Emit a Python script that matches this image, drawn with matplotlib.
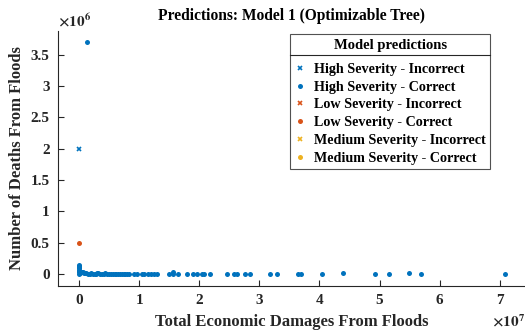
import matplotlib
matplotlib.use("Agg")
import matplotlib.pyplot as plt
from matplotlib.lines import Line2D
from matplotlib.ticker import FuncFormatter

# ── Data (damages in $, deaths) ───────────────────────────────────
high_incorrect_x = [0.0]
high_incorrect_y = [2.0e6]

high_correct_x = [
    0.13e7, 0.0, 0.0, 0.0, 0.0, 0.0, 0.0, 0.0, 0.0,
    0.02e7, 0.04e7, 0.05e7, 0.06e7, 0.08e7, 0.10e7, 0.12e7, 0.15e7,
    0.18e7, 0.20e7, 0.23e7, 0.26e7, 0.28e7, 0.30e7, 0.32e7, 0.35e7,
    0.38e7, 0.41e7, 0.44e7, 0.47e7, 0.50e7, 0.53e7, 0.56e7, 0.59e7,
    0.62e7, 0.65e7, 0.68e7, 0.71e7, 0.74e7, 0.77e7, 0.80e7, 0.83e7,
    0.91e7, 0.96e7, 1.05e7, 1.08e7, 1.15e7, 1.20e7, 1.25e7, 1.29e7,
    1.50e7, 1.56e7, 1.57e7, 1.65e7, 1.79e7, 1.89e7, 1.96e7, 2.04e7,
    2.08e7, 2.18e7, 2.46e7, 2.57e7, 2.63e7, 2.76e7, 2.84e7, 3.18e7,
    3.29e7, 3.65e7, 3.69e7, 4.04e7, 4.40e7, 4.92e7, 5.15e7, 5.49e7,
    5.69e7, 7.08e7,
]
high_correct_y = [
    3.7e6, 0.15e6, 0.13e6, 0.11e6, 0.09e6, 0.07e6, 0.05e6, 0.03e6, 0.0,
    0.02e6, 0.03e6, 0.04e6, 0.03e6, 0.02e6, 0.01e6, 0.01e6, 0.0,
    0.0, 0.01e6, 0.0, 0.0, 0.0, 0.02e6, 0.01e6, 0.0,
    0.0, 0.0, 0.01e6, 0.0, 0.0, 0.0, 0.0, 0.0,
    0.0, 0.0, 0.0, 0.0, 0.0, 0.0, 0.0, 0.0,
    0.0, 0.0, 0.0, 0.0, 0.0, 0.0, 0.0, 0.0,
    0.0, 0.03e6, 0.0, 0.0, 0.0, 0.0, 0.0, 0.0,
    0.0, 0.0, 0.0, 0.0, 0.0, 0.0, 0.0, 0.0,
    0.0, 0.0, 0.0, 0.0, 0.01e6, 0.0, 0.0, 0.01e6,
    0.0, 0.0,
]

low_incorrect_x = []
low_incorrect_y = []
low_correct_x = [0.0]
low_correct_y = [0.5e6]

medium_incorrect_x = []
medium_incorrect_y = []
medium_correct_x = []
medium_correct_y = []

x_ticks = [0, 1, 2, 3, 4, 5, 6, 7]
y_ticks = [0, 0.5, 1, 1.5, 2, 2.5, 3, 3.5]

BLUE   = "#0072BD"
ORANGE = "#D95319"
YELLOW = "#EDB120"

plt.rcParams["font.family"] = ["Liberation Serif", "DejaVu Serif"]
plt.rcParams["font.weight"] = "bold"
plt.rcParams["mathtext.fontset"] = "stix"

fig = plt.figure(figsize=(5.25, 3.34), dpi=100)
ax = fig.add_axes([0.1105, 0.1437, 0.8895, 0.764])

series = [
    (high_incorrect_x, high_incorrect_y, "x", BLUE, "High Severity - Incorrect"),
    (high_correct_x, high_correct_y, "o", BLUE, "High Severity - Correct"),
    (low_incorrect_x, low_incorrect_y, "x", ORANGE, "Low Severity - Incorrect"),
    (low_correct_x, low_correct_y, "o", ORANGE, "Low Severity - Correct"),
    (medium_incorrect_x, medium_incorrect_y, "x", YELLOW, "Medium Severity - Incorrect"),
    (medium_correct_x, medium_correct_y, "o", YELLOW, "Medium Severity - Correct"),
]
for xs, ys, mk, col, lab in series:
    if mk == "x":
        ax.plot(xs, ys, ls="none", marker="x", ms=3.2, mew=1.2, color=col, label=lab)
    else:
        ax.plot(xs, ys, ls="none", marker="o", ms=3.6, mew=0, color=col, label=lab)

ax.set_xlim(-0.35e7, 7.42e7)
ax.set_ylim(-0.19e6, 3.88e6)
ax.set_xticks([t * 1e7 for t in x_ticks])
ax.set_yticks([t * 1e6 for t in y_ticks])
ax.xaxis.set_major_formatter(FuncFormatter(lambda v, p: f"{v / 1e7:g}"))
ax.yaxis.set_major_formatter(FuncFormatter(lambda v, p: f"{v / 1e6:g}"))

for s in ["top", "right"]:
    ax.spines[s].set_visible(False)
for s in ["left", "bottom"]:
    ax.spines[s].set_color("#262626")
    ax.spines[s].set_linewidth(0.8)
ax.tick_params(direction="in", length=4, width=0.8, color="#262626",
               labelsize=11, labelcolor="#262626", pad=6)
for lbl in ax.get_xticklabels() + ax.get_yticklabels():
    lbl.set_fontweight("bold")

ax.set_xlabel("Total Economic Damages From Floods", fontsize=12,
              fontweight="bold", color="#262626", labelpad=5)
ax.set_ylabel("Number of Deaths From Floods", fontsize=12,
              fontweight="bold", color="#262626", labelpad=4)
ax.set_title("Predictions: Model 1 (Optimizable Tree)", fontsize=11.2,
             fontweight="bold", color="black", pad=8)

# exponent labels, MATLAB style
ax.text(0.0, 1.005, r"$\times10^{6}$", transform=ax.transAxes,
        fontsize=11, ha="left", va="bottom", color="#262626")
ax.text(1.0, -0.14, r"$\times10^{7}$", transform=ax.transAxes,
        fontsize=11, ha="right", va="center", color="#262626")

leg = ax.legend(loc="upper right", bbox_to_anchor=(0.934, 0.897),
                bbox_transform=fig.transFigure, fontsize=10.2,
                title="Model predictions",
                title_fontproperties={"weight": "bold", "size": 10.5},
                frameon=True, fancybox=False, edgecolor="#262626",
                handlelength=0.8, handletextpad=0.6, borderpad=0.3,
                labelspacing=0.34, borderaxespad=0)
leg.get_frame().set_linewidth(0.8)
leg._legend_box.sep = 8
for t in leg.get_texts():
    t.set_fontweight("bold")

# separator line under legend title
fig.canvas.draw()
inv = fig.transFigure.inverted()
fb = leg.get_frame().get_window_extent()
tb = leg.get_title().get_window_extent()
x0, _ = inv.transform((fb.x0, 0))
x1, _ = inv.transform((fb.x1, 0))
_, yl = inv.transform((0, tb.y0 - 3))
fig.add_artist(Line2D([x0, x1], [yl, yl], color="#262626", lw=0.8,
                      transform=fig.transFigure))

plt.savefig("out.png", dpi=100)
